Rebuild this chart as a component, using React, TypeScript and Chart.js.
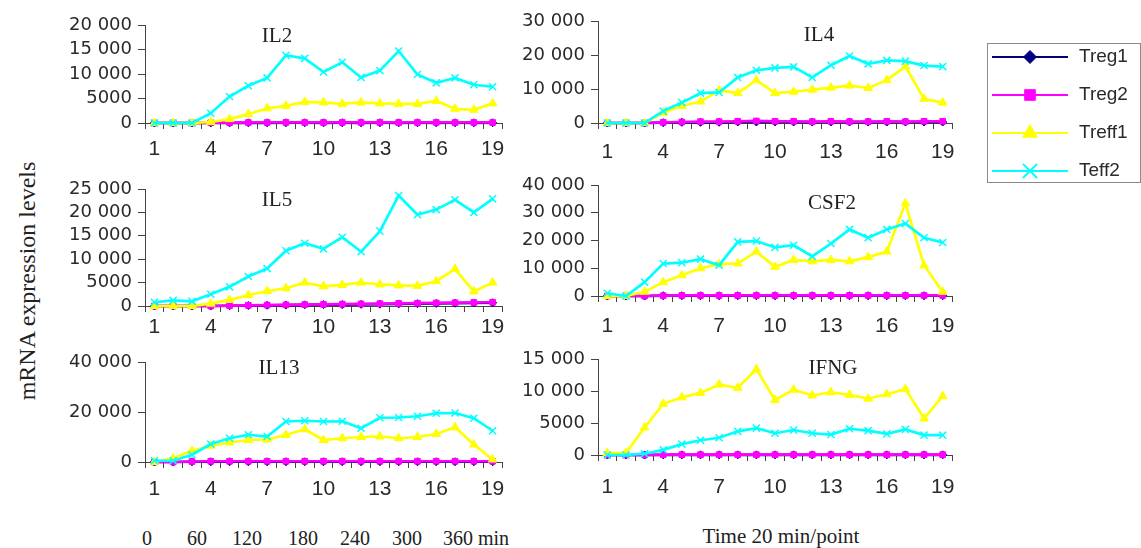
import React, { useEffect, useRef } from 'react';
import { Chart, registerables } from 'chart.js';

Chart.register(...registerables);

// ---------- data ----------
const timePoints = ['1', '2', '3', '4', '5', '6', '7', '8', '9', '10', '11', '12', '13', '14', '15', '16', '17', '18', '19'];
const seriesNames = ['Treg1', 'Treg2', 'Treff1', 'Teff2'];
const minuteLabels = ['0', '60', '120', '180', '240', '300', '360 min'];

const il2Treg1 = [0, 0, 0, 20, 30, 40, 40, 50, 50, 40, 50, 40, 50, 40, 50, 40, 50, 40, 50];
const il2Treg2 = [0, 0, 0, 50, 80, 100, 100, 120, 110, 100, 120, 110, 120, 100, 110, 120, 100, 110, 100];
const il2Treff1 = [0, 0, 0, 200, 800, 1800, 3000, 3500, 4300, 4200, 3900, 4200, 4000, 3900, 3900, 4500, 2900, 2700, 4000];
const il2Teff2 = [0, 0, 0, 2000, 5400, 7600, 9200, 13800, 13200, 10400, 12400, 9300, 10700, 14700, 9900, 8200, 9200, 7800, 7400];

const il4Treg1 = [0, 0, 0, 100, 200, 200, 200, 300, 300, 300, 300, 300, 300, 300, 300, 300, 300, 300, 300];
const il4Treg2 = [0, 0, 0, 200, 300, 400, 400, 500, 600, 500, 500, 400, 500, 400, 400, 500, 400, 500, 500];
const il4Treff1 = [0, 0, 0, 3000, 5000, 6300, 9600, 8800, 12600, 8800, 9200, 9800, 10400, 11000, 10300, 12600, 16600, 7100, 6000];
const il4Teff2 = [0, 0, 0, 3500, 6000, 8800, 9000, 13400, 15500, 16200, 16500, 13400, 17000, 19700, 17400, 18400, 18200, 16900, 16600];

const il5Treg1 = [0, 0, 0, 0, 50, 100, 150, 200, 250, 300, 300, 350, 400, 450, 500, 550, 600, 650, 700];
const il5Treg2 = [0, 0, 0, 0, 100, 150, 200, 250, 300, 350, 400, 450, 500, 550, 600, 650, 700, 750, 800];
const il5Treff1 = [0, 0, 0, 500, 1300, 2300, 3200, 3800, 5000, 4200, 4500, 5000, 4600, 4400, 4300, 5300, 7900, 3100, 5000];
const il5Teff2 = [800, 1200, 1000, 2500, 4100, 6300, 8000, 11800, 13400, 12200, 14700, 11600, 16000, 23600, 19500, 20600, 22700, 20000, 22900];

const csf2Treg1 = [0, 0, 0, 100, 100, 100, 100, 100, 100, 100, 100, 100, 100, 100, 100, 100, 100, 100, 100];
const csf2Treg2 = [0, 0, 0, 100, 200, 200, 200, 200, 200, 200, 200, 200, 200, 200, 200, 200, 200, 200, 200];
const csf2Treff1 = [0, 0, 1500, 5000, 7500, 10000, 11500, 11700, 16000, 10500, 13000, 12500, 13000, 12500, 14000, 16000, 33400, 11000, 1500];
const csf2Teff2 = [1000, 0, 5000, 11700, 12000, 13300, 11100, 19500, 19800, 17500, 18300, 14300, 18900, 24000, 21000, 24000, 26100, 21000, 19300];

const il13Treg1 = [0, 0, 100, 100, 100, 100, 100, 100, 100, 100, 100, 100, 100, 100, 100, 100, 100, 100, 100];
const il13Treg2 = [0, 0, 200, 300, 300, 300, 300, 300, 300, 300, 300, 300, 300, 300, 300, 300, 300, 300, 300];
const il13Treff1 = [0, 1500, 4500, 6500, 7800, 8800, 9000, 10800, 13100, 8800, 9500, 10000, 10200, 9500, 10000, 11200, 13900, 7000, 1000];
const il13Teff2 = [500, 500, 2900, 7200, 9500, 10900, 10200, 16200, 16500, 16200, 16300, 13500, 17700, 17800, 18300, 19500, 19600, 17500, 12500];

const ifngTreg1 = [0, 0, 0, 20, 20, 20, 20, 20, 20, 20, 20, 20, 20, 20, 20, 20, 20, 20, 20];
const ifngTreg2 = [0, 0, 0, 50, 50, 50, 50, 50, 50, 50, 50, 50, 50, 50, 50, 50, 50, 50, 50];
const ifngTreff1 = [300, 300, 4300, 8000, 9000, 9700, 11000, 10500, 13400, 8600, 10200, 9300, 9800, 9400, 8800, 9500, 10300, 5700, 9200];
const ifngTeff2 = [0, 0, 200, 800, 1700, 2300, 2700, 3700, 4200, 3400, 3900, 3400, 3200, 4100, 3800, 3300, 4000, 3100, 3100];

// ---------- styles ----------
const seriesColors = ['#000080', '#ff00ff', '#ffff00', '#00ffff'];
const pointStyles = ['rectRot', 'rect', 'triangle', 'crossRot'];
const panelRadius = [4, 4, 5, 5];
const legendRadius = [6.5, 7.5, 8.5, 10];
const axisColor = '#444444';
const tickColor = '#2a2a2a';

type PanelCfg = {
  title: string;
  series: number[][];
  max: number;
  step: number;
  left: number;
  top: number;
  width: number;
  height: number;
  yw: number;
  padTop: number;
  xPad: number;
  titleX: number;
  titleY: number;
};

const panels: PanelCfg[] = [
  { title: 'IL2', series: [il2Treg1, il2Treg2, il2Treff1, il2Teff2], max: 20000, step: 5000, left: 40, top: 5, width: 472, height: 168, yw: 105, padTop: 20, xPad: 8, titleX: 277, titleY: 35 },
  { title: 'IL4', series: [il4Treg1, il4Treg2, il4Treff1, il4Teff2], max: 30000, step: 10000, left: 490, top: 0, width: 472, height: 173, yw: 108, padTop: 21, xPad: 11, titleX: 819, titleY: 34 },
  { title: 'IL5', series: [il5Treg1, il5Treg2, il5Treff1, il5Teff2], max: 25000, step: 5000, left: 40, top: 169, width: 472, height: 187, yw: 105, padTop: 20, xPad: 3, titleX: 277, titleY: 199 },
  { title: 'CSF2', series: [csf2Treg1, csf2Treg2, csf2Treff1, csf2Teff2], max: 40000, step: 10000, left: 490, top: 165, width: 472, height: 181, yw: 108, padTop: 20, xPad: 12, titleX: 832, titleY: 202 },
  { title: 'IL13', series: [il13Treg1, il13Treg2, il13Treff1, il13Teff2], max: 40000, step: 20000, left: 40, top: 342, width: 472, height: 170, yw: 105, padTop: 20, xPad: 9, titleX: 279, titleY: 367 },
  { title: 'IFNG', series: [ifngTreg1, ifngTreg2, ifngTreff1, ifngTeff2], max: 15000, step: 5000, left: 490, top: 339, width: 472, height: 166, yw: 108, padTop: 20, xPad: 14, titleX: 833, titleY: 367 },
];

const minuteLeft = [142, 187, 232, 288, 340, 392, 443];

function fmt(v: number): string {
  if (v >= 10000) {
    const th = Math.floor(v / 1000);
    return th + ' 000';
  }
  return String(v);
}

function Panel({ cfg }: { cfg: PanelCfg }) {
  const ref = useRef<HTMLCanvasElement | null>(null);
  useEffect(() => {
    if (!ref.current) return;
    const chart = new Chart(ref.current, {
      type: 'line',
      data: {
        labels: timePoints,
        datasets: seriesNames.map((name, i) => ({
          label: name,
          data: cfg.series[i],
          borderColor: seriesColors[i],
          backgroundColor: seriesColors[i],
          pointBackgroundColor: seriesColors[i],
          pointBorderColor: seriesColors[i],
          pointStyle: pointStyles[i] as any,
          pointRadius: panelRadius[i],
          pointBorderWidth: i === 3 ? 1.5 : 1,
          borderWidth: 2.7,
          tension: 0,
          fill: false,
          clip: false as any,
          order: 4 - i,
        })),
      },
      options: {
        responsive: false,
        animation: false,
        events: [],
        layout: { padding: { top: cfg.padTop, right: 10, left: 0, bottom: 0 } },
        plugins: { legend: { display: false }, tooltip: { enabled: false }, title: { display: false } },
        scales: {
          x: {
            type: 'category',
            offset: true,
            grid: { display: true, drawOnChartArea: false, drawTicks: true, tickLength: 6, color: axisColor, offset: true },
            border: { display: true, color: axisColor, width: 1 },
            ticks: {
              autoSkip: false,
              maxRotation: 0,
              minRotation: 0,
              color: tickColor,
              font: { family: '"Liberation Sans", Arial, sans-serif', size: 21 },
              padding: cfg.xPad,
              callback: (_v: any, i: number) => (i % 3 === 0 ? timePoints[i] : ''),
            },
            afterFit: (s: any) => {
              s.height = 50;
              s.paddingLeft = 0;
              s.paddingRight = 0;
            },
          },
          y: {
            type: 'linear',
            min: 0,
            max: cfg.max,
            grid: { display: true, drawOnChartArea: false, drawTicks: true, tickLength: 7, color: axisColor },
            border: { display: true, color: axisColor, width: 1 },
            ticks: {
              autoSkip: false,
              stepSize: cfg.step,
              color: tickColor,
              font: { family: '"DejaVu Sans", sans-serif', size: 18 },
              padding: 6,
              callback: (v: any) => fmt(Number(v)),
            },
            afterFit: (s: any) => {
              s.width = cfg.yw;
              s.paddingTop = 0;
              s.paddingBottom = 0;
            },
          },
        },
      },
    } as any);
    return () => chart.destroy();
  }, [cfg]);
  return (
    <canvas
      ref={ref}
      width={cfg.width}
      height={cfg.height}
      style={{ position: 'absolute', left: cfg.left, top: cfg.top, width: cfg.width, height: cfg.height }}
    />
  );
}

const legendLeft = 988;
const legendTop = 44;
const legendW = 152;
const legendH = 138;

function Legend() {
  const ref = useRef<HTMLCanvasElement | null>(null);
  useEffect(() => {
    if (!ref.current) return;
    const chart = new Chart(ref.current, {
      type: 'line',
      data: {
        datasets: seriesNames.map((name, i) => ({
          label: name,
          data: [
            { x: 0, y: i },
            { x: 0.5, y: i },
            { x: 1, y: i },
          ],
          borderColor: seriesColors[i],
          backgroundColor: seriesColors[i],
          pointBackgroundColor: seriesColors[i],
          pointBorderColor: seriesColors[i],
          pointStyle: pointStyles[i] as any,
          pointRadius: [0, legendRadius[i], 0],
          pointBorderWidth: i === 3 ? 2 : 1,
          borderWidth: 2,
          tension: 0,
          clip: false as any,
        })),
      },
      options: {
        responsive: false,
        animation: false,
        events: [],
        layout: { padding: { top: 0, right: 0, left: 4, bottom: 0 } },
        plugins: { legend: { display: false }, tooltip: { enabled: false } },
        scales: {
          x: { type: 'linear', min: 0, max: 1, display: false },
          y: {
            type: 'linear',
            position: 'right',
            reverse: true,
            min: -0.342,
            max: 3.29,
            grid: { display: false, drawTicks: false },
            border: { display: false },
            ticks: {
              autoSkip: false,
              stepSize: 1,
              includeBounds: false,
              padding: 11,
              color: tickColor,
              font: { family: '"Liberation Sans", Arial, sans-serif', size: 19 },
              callback: (v: any) => (Number.isInteger(v) && seriesNames[v] ? seriesNames[v] : ''),
            },
            afterFit: (s: any) => {
              s.width = 72;
              s.paddingTop = 0;
              s.paddingBottom = 0;
            },
          },
        },
      },
    } as any);
    return () => chart.destroy();
  }, []);
  return (
    <canvas
      ref={ref}
      width={legendW}
      height={legendH}
      style={{ position: 'absolute', left: legendLeft, top: legendTop, width: legendW, height: legendH }}
    />
  );
}

const serif = '"Liberation Serif", "Times New Roman", serif';

export default function App() {
  return (
    <div style={{ position: 'fixed', left: 0, top: 0, width: 1141, height: 548, background: '#ffffff', overflow: 'hidden' }}>
      {panels.map((p) => (
        <Panel key={p.title} cfg={p} />
      ))}
      {panels.map((p) => (
        <div
          key={'t' + p.title}
          style={{
            position: 'absolute',
            left: p.titleX,
            top: p.titleY,
            transform: 'translate(-50%, -50%)',
            font: `21px ${serif}`,
            lineHeight: '1',
            color: '#222',
            whiteSpace: 'nowrap',
          }}
        >
          {p.title}
        </div>
      ))}
      <div
        style={{
          position: 'absolute',
          left: 987,
          top: 43,
          width: 154,
          height: 140,
          boxSizing: 'border-box',
          border: '1px solid #8a8a8a',
        }}
      />
      <Legend />
      <div
        style={{
          position: 'absolute',
          left: 27,
          top: 281,
          transform: 'translate(-50%, -50%) rotate(-90deg)',
          font: `24px ${serif}`,
          lineHeight: '1',
          color: '#222',
          whiteSpace: 'nowrap',
        }}
      >
        mRNA expression levels
      </div>
      {minuteLabels.map((m, i) => (
        <div
          key={'m' + i}
          style={{
            position: 'absolute',
            left: minuteLeft[i],
            top: 538,
            transform: 'translate(0, -50%)',
            font: `20px ${serif}`,
            lineHeight: '1',
            color: '#222',
            whiteSpace: 'nowrap',
          }}
        >
          {m}
        </div>
      ))}
      <div
        style={{
          position: 'absolute',
          left: 781,
          top: 536,
          transform: 'translate(-50%, -50%)',
          font: `21px ${serif}`,
          lineHeight: '1',
          color: '#222',
          whiteSpace: 'nowrap',
        }}
      >
        Time 20 min/point
      </div>
    </div>
  );
}
